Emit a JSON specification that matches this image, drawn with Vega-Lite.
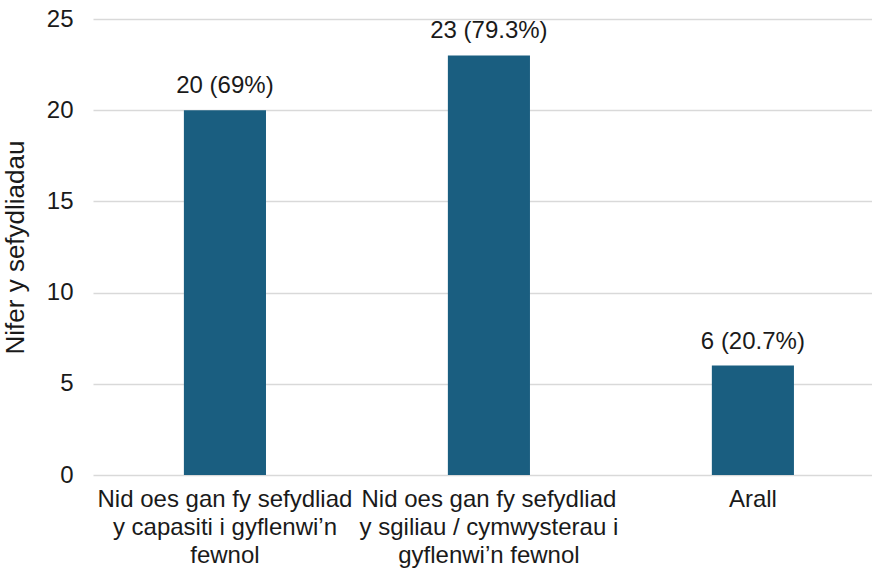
{
  "$schema": "https://vega.github.io/schema/vega-lite/v6.json",
  "autosize": {"type": "none"},
  "padding": {"left": 93, "top": 19, "right": 0, "bottom": 100},
  "width": 779,
  "height": 456,
  "background": "white",
  "config": {
    "view": {"stroke": null},
    "font": "Liberation Sans"
  },
  "data": {
    "values": [
      {"category": "Nid oes gan fy sefydliad|y capasiti i gyflenwi’n|fewnol", "order": 1, "count": 20, "label": "20 (69%)"},
      {"category": "Nid oes gan fy sefydliad|y sgiliau / cymwysterau i|gyflenwi’n fewnol", "order": 2, "count": 23, "label": "23 (79.3%)"},
      {"category": "Arall", "order": 3, "count": 6, "label": "6 (20.7%)"}
    ]
  },
  "encoding": {
    "x": {
      "field": "category",
      "type": "nominal",
      "sort": {"field": "order"},
      "scale": {"paddingInner": 0.689, "paddingOuter": 0.32, "align": 0.538},
      "axis": {
        "title": null,
        "labelAngle": 0,
        "labelExpr": "split(datum.label, '|')",
        "labelFontSize": 24,
        "labelColor": "#1a1a1a",
        "labelLineHeight": 28,
        "labelPadding": 12,
        "labelLimit": 400,
        "domain": false,
        "ticks": false
      }
    },
    "y": {
      "field": "count",
      "type": "quantitative",
      "scale": {"domain": [0, 25]},
      "axis": {
        "title": "Nifer y sefydliadau",
        "titleFontSize": 26,
        "titleFontWeight": "normal",
        "titleColor": "#1a1a1a",
        "titlePadding": 18,
        "values": [0, 5, 10, 15, 20, 25],
        "labelFontSize": 24,
        "labelColor": "#1a1a1a",
        "labelPadding": 20,
        "domain": false,
        "ticks": false,
        "gridColor": "#d9d9d9",
        "gridWidth": 1.5
      }
    }
  },
  "layer": [
    {"mark": {"type": "bar", "color": "#1a5e80"}},
    {
      "mark": {"type": "text", "baseline": "bottom", "dy": -12, "fontSize": 24, "color": "#1a1a1a"},
      "encoding": {"text": {"field": "label"}}
    }
  ]
}
